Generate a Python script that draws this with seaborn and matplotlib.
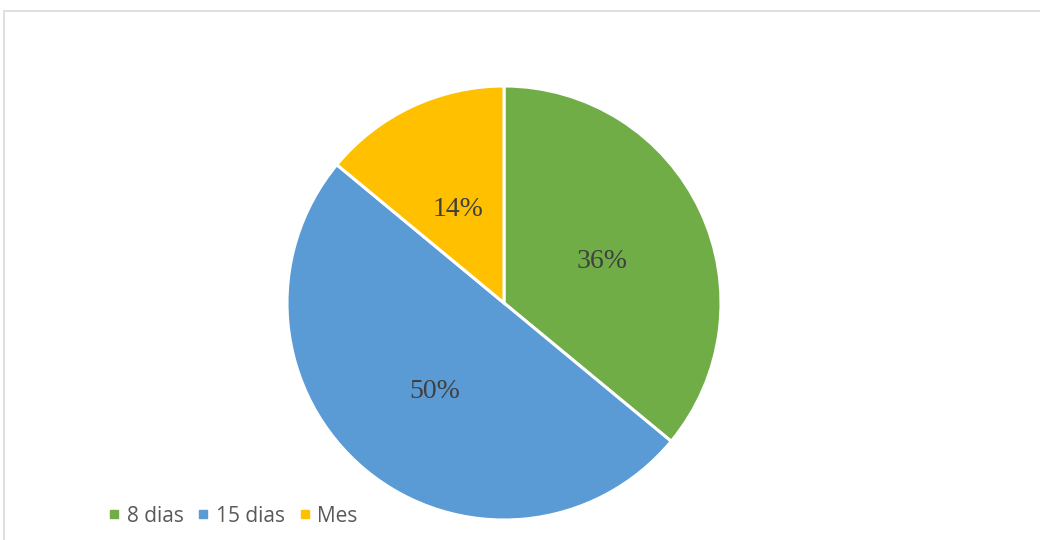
import matplotlib
matplotlib.use("Agg")
import matplotlib.pyplot as plt
from matplotlib.patches import Rectangle
from matplotlib.lines import Line2D
from matplotlib.transforms import offset_copy
import seaborn as sns

categories = ["8 dias", "15 dias", "Mes"]
shares = [36, 50, 14]
colors = ["#70AD47", "#5B9BD5", "#FFC000"]

sns.set_theme(style="white")
plt.rcParams["font.family"] = ["Open Sans", "DejaVu Sans"]

W, H = 1040, 540
fig = plt.figure(figsize=(W / 100, H / 100), dpi=100)
fig.patch.set_facecolor("white")

# chart frame (top and left edges visible)
fig.add_artist(Rectangle((4 / W, -0.05), 1.2, 1 - 11 / H + 0.05,
                         transform=fig.transFigure, fill=False,
                         edgecolor="#D9D9D9", linewidth=1.2))

cx, cy, r = 504, 303, 217
ax = fig.add_axes([(cx - r) / W, 1 - (cy + r) / H, 2 * r / W, 2 * r / H])
wedges, _, autotexts = ax.pie(
    shares, colors=colors, startangle=90, counterclock=False,
    autopct=lambda p: f"{p:.0f}%", pctdistance=0.5,
    wedgeprops=dict(edgecolor="white", linewidth=2.2),
    textprops=dict(family="Liberation Serif", fontsize=20, color="#404040"),
)
# nudge the percentage labels slightly downward
for t in autotexts:
    t.set_transform(offset_copy(t.get_transform(), fig=fig, x=0, y=-5, units="dots"))
ax.set_xlim(-1, 1)
ax.set_ylim(-1, 1)
ax.set_aspect("equal")
ax.axis("off")

handles = [Line2D([0], [0], marker="s", linestyle="", markersize=6,
                  markerfacecolor=c, markeredgecolor=c) for c in colors]
fig.legend(handles, categories, loc="center left",
           bbox_to_anchor=(109 / W, 1 - 516 / H), ncol=3, frameon=False,
           fontsize=15, labelcolor="#595959", handletextpad=0.35,
           columnspacing=0.7, handlelength=0.5, borderpad=0,
           borderaxespad=0)

fig.savefig("out.png", dpi=100, facecolor="white")
